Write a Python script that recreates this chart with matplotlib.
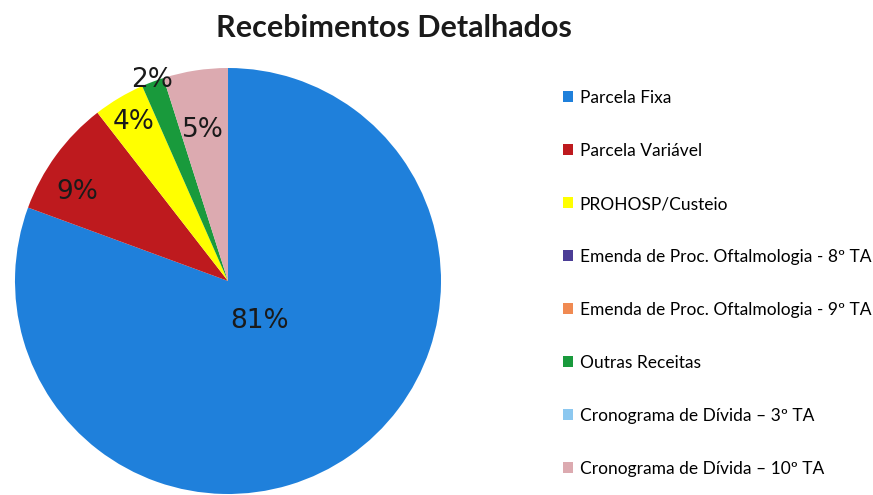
import numpy as np
import matplotlib.pyplot as plt

categorias = [
    "Parcela Fixa",
    "Parcela Variável",
    "PROHOSP/Custeio",
    "Emenda de Proc. Oftalmologia - 8º TA",
    "Emenda de Proc. Oftalmologia - 9º TA",
    "Outras Receitas",
    "Cronograma de Dívida \u2013 3º TA",
    "Cronograma de Dívida \u2013 10º TA",
]
valores = [80.6, 8.9, 3.9, 0.0, 0.0, 1.7, 0.0, 4.9]
cores = ["#1f80db", "#be1a1e", "#ffff00", "#4b3d96", "#f08a52",
         "#199a3c", "#8cc8f0", "#dcaab0"]

# label placement (radius fraction, angle shift in degrees) per slice
label_r = [0.24, 0.82, 0.87, 0, 0, 1.01, 0, 0.72]
label_shift = [3, 5.7, 0, 0, 0, 0, 0, 0.5]

plt.rcParams['font.family'] = ['Lato', 'DejaVu Sans']

fig = plt.figure(figsize=(8.73, 4.95), dpi=100)
ax = fig.add_axes([15 / 873, 1 / 495, 426 / 873, 426 / 495])

wedges, _ = ax.pie(valores, colors=cores, startangle=90, counterclock=False,
                   radius=1.0, wedgeprops=dict(linewidth=0))
ax.set_xlim(-1, 1)
ax.set_ylim(-1, 1)
ax.set_aspect('equal')

total = sum(valores)
for w, v, r, s in zip(wedges, valores, label_r, label_shift):
    if v <= 0:
        continue
    ang = np.deg2rad((w.theta1 + w.theta2) / 2 + s)
    ax.text(r * np.cos(ang), r * np.sin(ang), f"{round(v / total * 100)}%",
            ha='center', va='center', fontsize=19, color='#1a1a1a',
            family='DejaVu Sans')

fig.text(0.451, 0.943, "Recebimentos Detalhados", ha='center', va='center',
         fontsize=22, fontweight='bold', color='#1a1a1a')

fig.legend(wedges, categorias, loc='upper left', bbox_to_anchor=(0.637, 0.832),
           frameon=False, fontsize=12.5, handlelength=0.6, handleheight=0.6,
           handletextpad=0.35, labelspacing=2.13, borderaxespad=0)

fig.savefig("out.png", dpi=100)
